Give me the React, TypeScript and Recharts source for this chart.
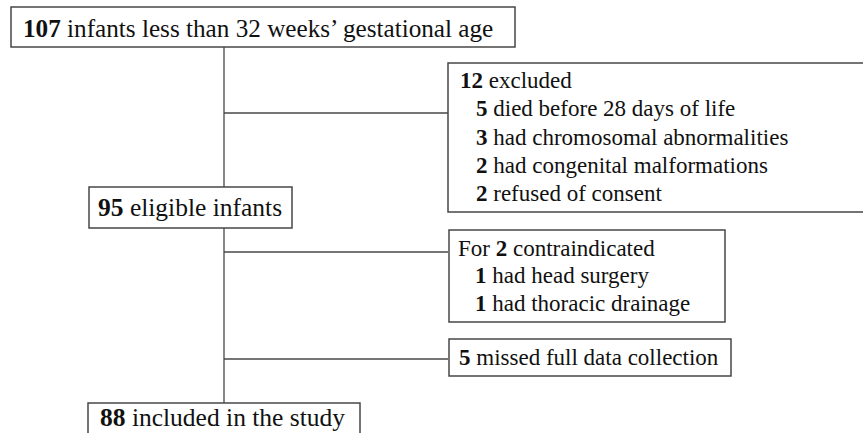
// Flow of infants through the study: enrolment → exclusions → final sample.
// Drawn on a hidden numeric x/y plane so boxes and connectors go through recharts scales.

import { ComposedChart, ReferenceArea, ReferenceLine, XAxis, YAxis } from 'recharts'

// --- numbers and wording ---
const mainCounts = [107, 95, 88]
const mainLabels = ['infants less than 32 weeks’ gestational age', 'eligible infants', 'included in the study']

const excludedTotal = 12
const excludedCounts = [5, 3, 2, 2]
const excludedReasons = [
  'died before 28 days of life',
  'had chromosomal abnormalities',
  'had congenital malformations',
  'refused of consent',
]

const contraTotal = 2
const contraCounts = [1, 1]
const contraReasons = ['had head surgery', 'had thoracic drainage']

const missedCount = 5
const missedLabel = 'missed full data collection'

// --- diagram geometry (chart units, y grows downward) ---
const W = 863
const H = 433
const FONT = 'Liberation Serif, Times New Roman, serif'
const INK = '#111'
const EDGE = '#474747'

const mainBoxes = [
  { x1: 11, x2: 515, y1: 7, y2: 47, padX: 12, baseline: 30, size: 25.2 },
  { x1: 89, x2: 292, y1: 187, y2: 228, padX: 9, baseline: 29, size: 25.5 },
  { x1: 88, x2: 360, y1: 403, y2: 445, padX: 12, baseline: 23, size: 25.5 },
]
const sideBoxes = [
  { x1: 448, x2: 875, y1: 63, y2: 212, padX: 12, indent: 16, baseline: 25, gap: 28.3 },
  { x1: 449, x2: 725, y1: 230, y2: 322, padX: 9, indent: 17, baseline: 25.7, gap: 27.7 },
  { x1: 449, x2: 731, y1: 339, y2: 376, padX: 10, indent: 0, baseline: 26, gap: 0 },
]
const trunkX = 224
const branchY = [113, 252, 359]
const branchEndX = 448

type Row = { pre?: string; num: number; post: string; indent?: boolean }

const mainRows: Row[][] = mainCounts.map((n, i) => [{ num: n, post: ' ' + mainLabels[i] }])
const sideRows: Row[][] = [
  [
    { num: excludedTotal, post: ' excluded' },
    ...excludedCounts.map((n, i) => ({ num: n, post: ' ' + excludedReasons[i], indent: true })),
  ],
  [
    { pre: 'For ', num: contraTotal, post: ' contraindicated' },
    ...contraCounts.map((n, i) => ({ num: n, post: ' ' + contraReasons[i], indent: true })),
  ],
  [{ num: missedCount, post: ' ' + missedLabel }],
]

function boxLabel(rows: Row[], size: number, padX: number, indent: number, baseline: number, gap: number) {
  return (props: any) => {
    const { x, y } = props.viewBox
    return (
      <text style={{ fontFamily: FONT, fontSize: size, fill: INK }}>
        {rows.map((r, i) => (
          <tspan key={i} x={x + padX + (r.indent ? indent : 0)} y={y + baseline + i * gap}>
            {r.pre}
            <tspan style={{ fontWeight: 'bold' }}>{r.num}</tspan>
            {r.post}
          </tspan>
        ))}
      </text>
    )
  }
}

export default function App() {
  return (
    <div style={{ position: 'absolute', left: 0, top: 0, background: '#fff' }}>
      <ComposedChart width={W} height={H} margin={{ top: 0, right: 0, bottom: 0, left: 0 }}>
        <XAxis type="number" dataKey="x" domain={[0, W]} hide allowDataOverflow />
        <YAxis type="number" dataKey="y" domain={[0, H]} reversed hide allowDataOverflow />

        {/* vertical trunk between the main boxes */}
        <ReferenceLine
          segment={[{ x: trunkX, y: mainBoxes[0].y2 }, { x: trunkX, y: mainBoxes[1].y1 }]}
          stroke={EDGE}
          strokeWidth={1.3}
          ifOverflow="visible"
        />
        <ReferenceLine
          segment={[{ x: trunkX, y: mainBoxes[1].y2 }, { x: trunkX, y: mainBoxes[2].y1 }]}
          stroke={EDGE}
          strokeWidth={1.3}
          ifOverflow="visible"
        />
        {/* branches to the exclusion boxes */}
        {branchY.map((by, i) => (
          <ReferenceLine
            key={'b' + i}
            segment={[{ x: trunkX, y: by }, { x: branchEndX, y: by }]}
            stroke={EDGE}
            strokeWidth={1.3}
            ifOverflow="visible"
          />
        ))}

        {mainBoxes.map((b, i) => (
          <ReferenceArea
            key={'m' + i}
            x1={b.x1}
            x2={b.x2}
            y1={b.y1}
            y2={b.y2}
            fill="#fff"
            fillOpacity={1}
            stroke={EDGE}
            strokeWidth={1.5}
            ifOverflow="hidden"
            label={boxLabel(mainRows[i], b.size, b.padX, 0, b.baseline, 0)}
          />
        ))}
        {sideBoxes.map((b, i) => (
          <ReferenceArea
            key={'s' + i}
            x1={b.x1}
            x2={b.x2}
            y1={b.y1}
            y2={b.y2}
            fill="#fff"
            fillOpacity={1}
            stroke={EDGE}
            strokeWidth={1.5}
            ifOverflow="hidden"
            label={boxLabel(sideRows[i], 23, b.padX, b.indent, b.baseline, b.gap)}
          />
        ))}
      </ComposedChart>
    </div>
  )
}
